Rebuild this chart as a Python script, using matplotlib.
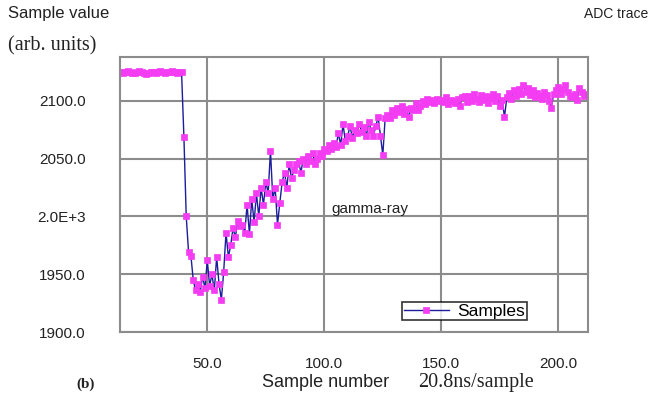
import numpy as np
import matplotlib
matplotlib.use('Agg')
from matplotlib import pyplot as plt
from matplotlib import ticker

# sample values, one per sample starting at sample 13
baseline = [2125, 2124, 2125, 2126, 2125, 2124, 2124, 2125, 2126, 2125,
            2124, 2123, 2124, 2125, 2125, 2124, 2125, 2126, 2125, 2124,
            2125, 2125, 2126, 2125, 2124, 2125, 2125]
pulse = [2069, 2000, 1969, 1966, 1945, 1936, 1942, 1935, 1948, 1938,
         1962, 1940, 1950, 1936, 1965, 1942, 1928, 1952, 1986, 1965,
         1975, 1990, 1982, 1996, 1992, 1993, 1986, 2010, 1985, 2015,
         1995, 2020, 2000, 2025, 2010, 2030, 2020, 2057, 2015, 2025,
         1993, 2012, 2030, 2038, 2025, 2045, 2033, 2040, 2045, 2048,
         2038, 2050, 2045, 2052, 2048, 2055, 2045, 2050, 2055, 2052,
         2058, 2057, 2062, 2058, 2064, 2060, 2072, 2062, 2080, 2065,
         2070, 2078, 2068, 2075, 2072, 2080, 2073, 2077, 2070, 2082,
         2075, 2070, 2078, 2086, 2070, 2053, 2085, 2088, 2085, 2092,
         2088, 2094, 2090, 2096, 2089, 2093, 2086, 2094, 2092, 2098,
         2092, 2096, 2100, 2097, 2102, 2099, 2101, 2098, 2102, 2100,
         2101, 2099, 2103, 2097, 2101, 2100, 2098, 2102, 2096, 2103,
         2104, 2099]
tail = [2104, 2100, 2106, 2102, 2099, 2105, 2101, 2104, 2098, 2103,
        2106, 2100, 2104, 2096, 2101, 2086, 2103, 2107, 2102, 2109,
        2104, 2110, 2106, 2114, 2108, 2111, 2105, 2109, 2103, 2107,
        2104, 2102, 2108, 2105, 2100, 2094, 2106, 2109, 2112, 2106,
        2110, 2114, 2108, 2104, 2103, 2106, 2101, 2111, 2108, 2104,
        2106]
values = baseline + pulse + tail
first_sample = 13
samples = np.arange(first_sample, first_sample + len(values))

x_ticks = [50, 100, 150, 200]
x_tick_labels = ['50.0', '100.0', '150.0', '200.0']
y_ticks = [1900, 1950, 2000, 2050, 2100]
y_tick_labels = ['1900.0', '1950.0', '2.0E+3', '2050.0', '2100.0']

sans = ['Liberation Sans', 'DejaVu Sans']
serif = ['Liberation Serif', 'DejaVu Serif']
plt.rcParams['font.family'] = sans

fig = plt.figure(figsize=(6.5, 4.04), dpi=100)
ax = fig.add_axes([0.185, 0.178, 0.72, 0.681])

ax.plot(samples, values, color='#1c1c9c', lw=1.0, marker='s', ms=4.8,
        mfc='#f43cf2', mec='#f43cf2', mew=0.5, label='Samples')

ax.set_xlim(12.8, 212.8)
ax.set_ylim(1900, 2138)
ax.xaxis.set_major_locator(ticker.FixedLocator(x_ticks))
ax.xaxis.set_major_formatter(ticker.FixedFormatter(x_tick_labels))
ax.yaxis.set_major_locator(ticker.FixedLocator(y_ticks))
ax.yaxis.set_major_formatter(ticker.FixedFormatter(y_tick_labels))
ax.tick_params(length=0, labelsize=11, colors='#222222')
ax.tick_params(axis='y', pad=25)
ax.tick_params(axis='x', pad=18)
ax.grid(True, color='#8c8c8c', lw=1.5)
ax.set_axisbelow(True)
for s in ax.spines.values():
    s.set_color('#8c8c8c')
    s.set_linewidth(1.5)

leg = ax.legend(loc='upper left', bbox_to_anchor=(0.602, 0.11),
                frameon=True, fancybox=False, fontsize=12.5,
                handlelength=2.6, borderpad=0.1, handletextpad=0.5,
                borderaxespad=0)
leg.get_frame().set_edgecolor('black')
leg.get_frame().set_linewidth(1.2)

ax.text(103, 2003, 'gamma-ray', fontsize=11, color='#222222')

fig.text(0.012, 0.955, 'Sample value', fontsize=12, color='#222222')
fig.text(0.012, 0.875, '(arb. units)', fontsize=14.5, family=serif,
         color='#222222')
fig.text(0.998, 0.955, 'ADC trace', fontsize=10, ha='right', color='#222222')
fig.text(0.403, 0.042, 'Sample number', fontsize=13, color='#222222')
fig.text(0.643, 0.042, '20.8ns/sample', fontsize=14.5, family=serif,
         color='#222222')
fig.text(0.118, 0.04, '(b)', fontsize=11, family=serif, weight='bold',
         color='#222222')

fig.savefig('out.png', dpi=100)
